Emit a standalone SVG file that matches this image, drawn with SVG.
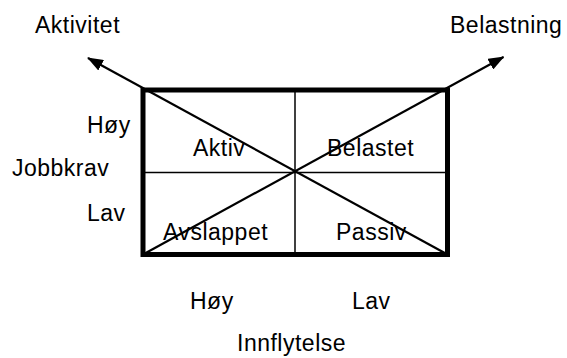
<svg xmlns="http://www.w3.org/2000/svg" width="567" height="358" viewBox="0 0 567 358">
  <style>
    text { font-family: "Liberation Sans", Arial, sans-serif; font-size: 23px; letter-spacing: 0.5px; fill: #000; }
    .thin { stroke: #000; stroke-width: 1.5; fill: none; }
    .frame { stroke: #000; stroke-width: 5; fill: none; }
    .axis { stroke: #000; stroke-width: 2.2; fill: none; }
  </style>
  <defs>
    <marker id="head" viewBox="0 0 16 12" refX="15" refY="6" markerWidth="16" markerHeight="12" markerUnits="userSpaceOnUse" orient="auto">
      <path d="M0,0 L16,6 L0,12 z" fill="#000"/>
    </marker>
  </defs>

  <!-- matrix frame and grid -->
  <g id="matrix">
    <rect class="frame" x="143" y="90" width="304.5" height="164.5"/>
    <line class="thin" x1="295" y1="90" x2="295" y2="254.5"/>
    <line class="thin" x1="143" y1="172.5" x2="447.5" y2="172.5"/>
  </g>

  <!-- diagonal axes with arrowheads -->
  <g id="connectors">
    <line class="axis" x1="447.5" y1="254.5" x2="88" y2="58" marker-end="url(#head)"/>
    <line class="axis" x1="143" y1="254.5" x2="503.5" y2="57" marker-end="url(#head)"/>
  </g>

  <g id="axis-labels">
    <text x="35" y="33">Aktivitet</text>
    <text x="450" y="33">Belastning</text>
    <text x="87" y="133">Høy</text>
    <text x="12" y="176">Jobbkrav</text>
    <text x="87" y="221">Lav</text>
    <text x="190" y="309">Høy</text>
    <text x="352" y="309">Lav</text>
    <text x="237" y="351">Innflytelse</text>
  </g>

  <g id="quadrants">
    <text x="193" y="156">Aktiv</text>
    <text x="327" y="156">Belastet</text>
    <text x="163" y="240">Avslappet</text>
    <text x="336" y="240">Passiv</text>
  </g>
</svg>
